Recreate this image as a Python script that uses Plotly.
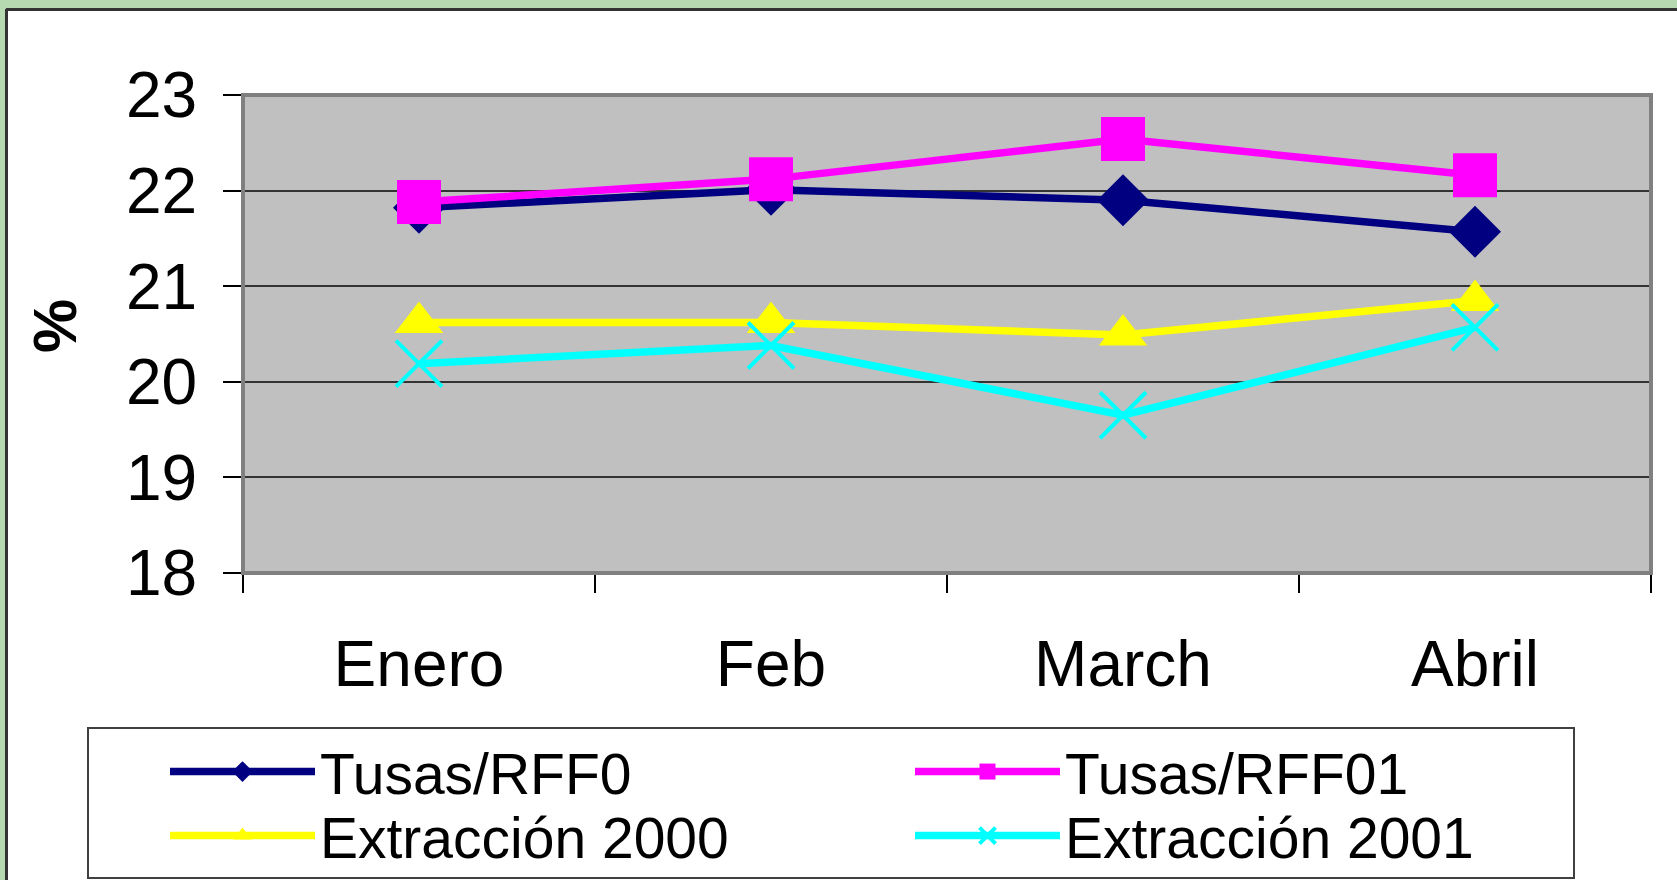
import plotly.graph_objects as go

# Datos
meses = ['Enero', 'Feb', 'March', 'Abril']
tusas_rff0 = [21.82, 22.01, 21.90, 21.57]
tusas_rff01 = [21.88, 22.12, 22.54, 22.16]
extraccion_2000 = [20.62, 20.62, 20.49, 20.85]
extraccion_2001 = [20.19, 20.38, 19.65, 20.57]
y_ticks = [18, 19, 20, 21, 22, 23]

# Geometria (pixeles)
W, H = 1677, 880
L, R, T, B = 243, 26, 95, 307
pw, ph = W - L - R, H - T - B


def px_x(p):
    return (p - L) / pw


def px_y(p):
    return (H - B - p) / ph


series = [
    ('Tusas/RFF0', tusas_rff0, '#000080', 'diamond', 40, 'legend'),
    ('Tusas/RFF01', tusas_rff01, '#FF00FF', 'square', 44, 'legend'),
    ('Extracción 2000', extraccion_2000, '#FFFF00', 'triangle-up', 42, 'legend2'),
    ('Extracción 2001', extraccion_2001, '#00FFFF', 'x-thin', 46, 'legend2'),
]

fig = go.Figure()
for nombre, vals, color, simbolo, tam, ley in series:
    fig.add_trace(go.Scatter(
        x=meses, y=vals, name=nombre, mode='lines+markers', legend=ley,
        line=dict(color=color, width=7.5),
        marker=dict(symbol=simbolo, size=tam, color=color,
                    line=dict(color=color, width=4 if simbolo == 'x-thin' else 0))
    ))

fuente = 'Liberation Sans, Arial, sans-serif'
ley_base = dict(
    orientation='h', xanchor='left', yanchor='middle',
    font=dict(size=57, family=fuente, color='black'),
    bgcolor='rgba(0,0,0,0)', borderwidth=0,
    entrywidth=585, entrywidthmode='pixels',
    itemwidth=145, tracegroupgap=0,
)

fig.update_layout(
    width=W, height=H,
    margin=dict(l=L, r=R, t=T, b=B, autoexpand=False),
    paper_bgcolor='white',
    plot_bgcolor='#C0C0C0',
    font=dict(family=fuente, color='black'),
    showlegend=True,
    legend=dict(ley_base, x=px_x(165), y=px_y(772)),
    legend2=dict(ley_base, x=px_x(165), y=px_y(836)),
    xaxis=dict(
        type='category', range=[-0.5, 3.5],
        showline=True, linecolor='black', linewidth=2,
        ticks='outside', ticklen=18, tickwidth=1.5, tickcolor='black',
        tickson='boundaries', showgrid=False,
        tickfont=dict(size=64, family=fuente, color='black'),
        ticklabelstandoff=34,
    ),
    yaxis=dict(
        range=[18, 23], tickvals=y_ticks,
        showline=False, zeroline=False,
        showgrid=True, gridcolor='#333333', gridwidth=1.5,
        ticks='outside', ticklen=19, tickwidth=1.5, tickcolor='black',
        tickfont=dict(size=64, family=fuente, color='black'),
        ticklabelstandoff=13,
    ),
    annotations=[dict(
        text='<b>%</b>', xref='paper', yref='paper',
        x=px_x(55), y=px_y(326), xanchor='center', yanchor='middle',
        textangle=-90, showarrow=False,
        font=dict(size=61, family=fuente, color='black'),
    )],
    shapes=[
        # borde del area de trazado
        dict(type='rect', xref='paper', yref='paper', x0=0, x1=1, y0=0, y1=1,
             line=dict(color='#808080', width=4), layer='above'),
        # marco de la leyenda
        dict(type='rect', xref='paper', yref='paper',
             x0=px_x(88), x1=px_x(1574), y0=px_y(878), y1=px_y(728),
             line=dict(color='#404040', width=2), fillcolor='white', layer='below'),
        # fondo verde (franjas superior e izquierda)
        dict(type='rect', xref='paper', yref='paper',
             x0=px_x(0), x1=px_x(W), y0=px_y(0), y1=px_y(9),
             line=dict(width=0), fillcolor='#B7D9B1', layer='below'),
        dict(type='rect', xref='paper', yref='paper',
             x0=px_x(0), x1=px_x(6), y0=px_y(0), y1=px_y(H),
             line=dict(width=0), fillcolor='#B7D9B1', layer='below'),
        dict(type='line', xref='paper', yref='paper',
             x0=px_x(6), x1=px_x(W), y0=px_y(9.5), y1=px_y(9.5),
             line=dict(color='#333333', width=3)),
        dict(type='line', xref='paper', yref='paper',
             x0=px_x(6.5), x1=px_x(6.5), y0=px_y(9), y1=px_y(H),
             line=dict(color='#333333', width=3)),
    ],
)

fig.write_html('out.html', config={'displayModeBar': False},
               post_script="document.body.style.margin = '0';")
